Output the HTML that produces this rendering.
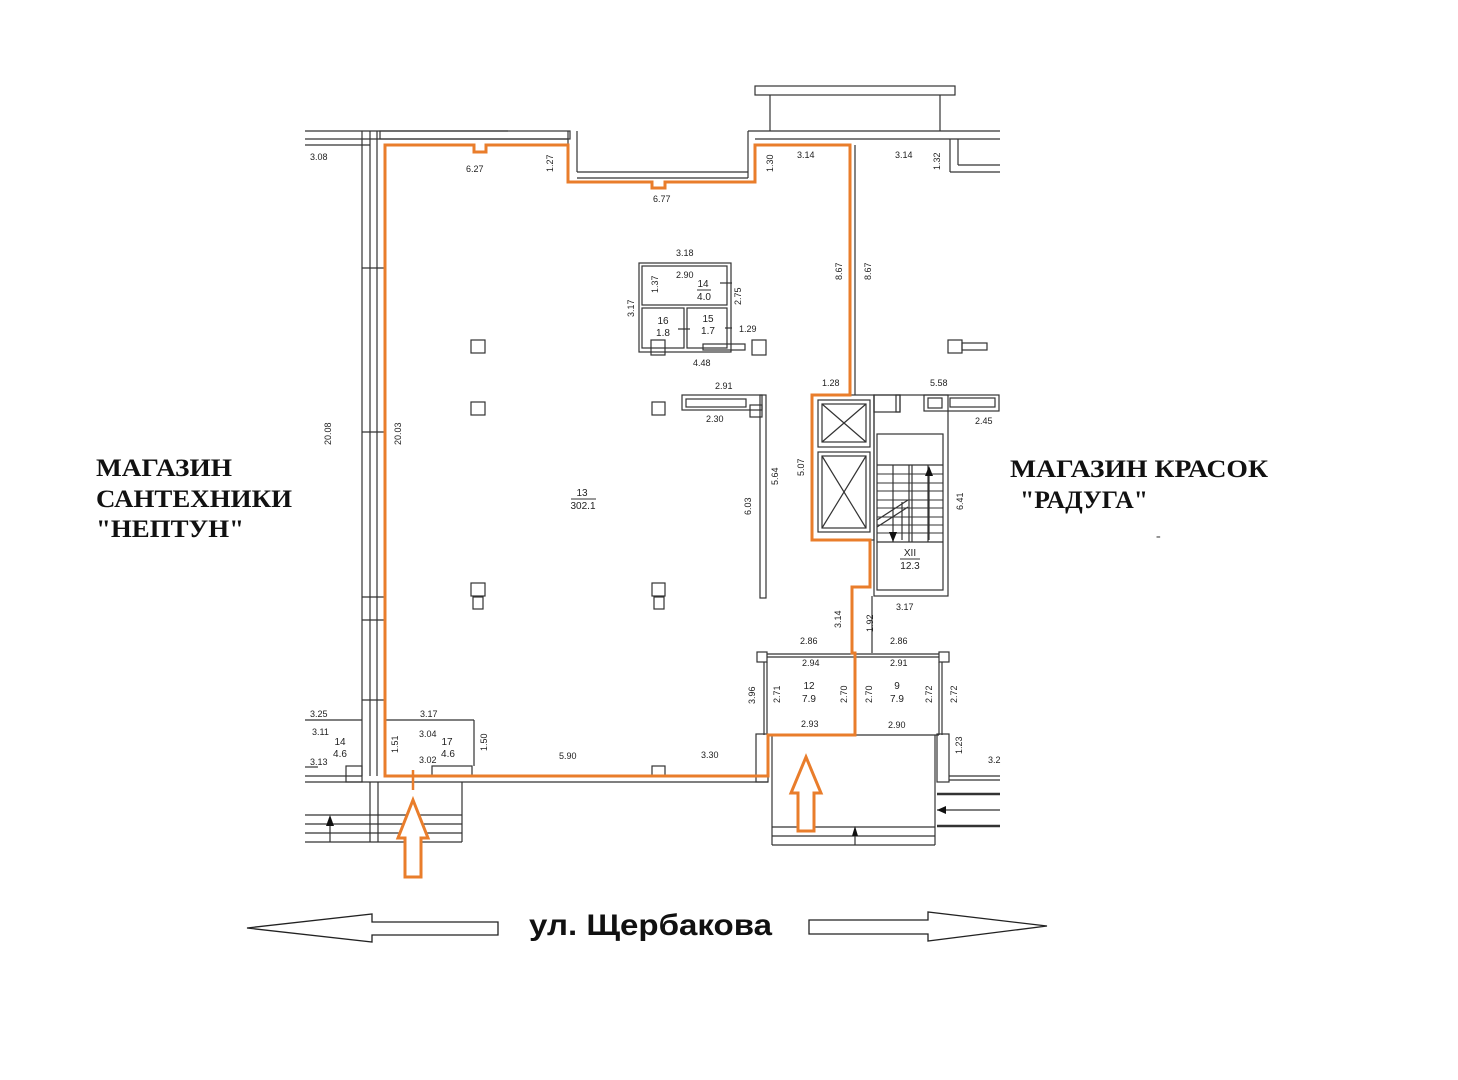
<!DOCTYPE html>
<html><head><meta charset="utf-8"><style>
html,body{margin:0;padding:0;background:#fff;}
svg{display:block}
.d{font-family:"Liberation Sans",sans-serif;font-size:9px;fill:#222}
.r{font-family:"Liberation Sans",sans-serif;font-size:10px;fill:#222}
.b{font-family:"Liberation Serif",serif;font-weight:bold;font-size:25px;fill:#111}
</style></head><body>
<svg width="1458" height="1080" viewBox="0 0 1458 1080" xmlns="http://www.w3.org/2000/svg">
<g fill="none" stroke="#333" stroke-width="1.2">
<!-- top canopy -->
<rect x="755" y="86" width="200" height="9"/>
<line x1="770" y1="95" x2="770" y2="131"/><line x1="940" y1="95" x2="940" y2="131"/>
<!-- top wall left -->
<line x1="305" y1="131" x2="508" y2="131"/><line x1="305" y1="139" x2="568" y2="139"/>
<line x1="305" y1="145" x2="370" y2="145"/>
<rect x="380" y="131" width="190" height="8"/>
<line x1="568" y1="131" x2="568" y2="182"/><line x1="577" y1="131" x2="577" y2="172"/>
<line x1="577" y1="172" x2="748" y2="172"/><line x1="577" y1="178" x2="748" y2="178"/>
<line x1="748" y1="131" x2="748" y2="178"/><line x1="748" y1="131" x2="1000" y2="131"/>
<line x1="755" y1="139" x2="1000" y2="139"/>
<line x1="950" y1="139" x2="950" y2="172"/><line x1="958" y1="139" x2="958" y2="165"/>
<line x1="958" y1="165" x2="1000" y2="165"/><line x1="950" y1="172" x2="1000" y2="172"/>
<line x1="855" y1="145" x2="855" y2="395"/>
<!-- left walls -->
<line x1="362" y1="131" x2="362" y2="776"/><line x1="370" y1="131" x2="370" y2="776"/>
<line x1="377" y1="131" x2="377" y2="776"/>
<line x1="362" y1="268" x2="385" y2="268"/><line x1="362" y1="432" x2="385" y2="432"/>
<line x1="362" y1="597" x2="385" y2="597"/><line x1="362" y1="620" x2="385" y2="620"/>
<line x1="362" y1="700" x2="385" y2="700"/>
<!-- bottom wall -->
<line x1="305" y1="782" x2="768" y2="782"/><line x1="305" y1="776" x2="362" y2="776"/>
<line x1="305" y1="720" x2="362" y2="720"/><line x1="305" y1="767" x2="318" y2="767"/>
<line x1="386" y1="720" x2="474" y2="720"/><line x1="474" y1="720" x2="474" y2="766"/>
<rect x="432" y="766" width="40" height="10"/>
<rect x="346" y="766" width="16" height="16"/>
<rect x="652" y="766" width="13" height="10"/>
<!-- porch left -->
<line x1="370" y1="782" x2="370" y2="842"/><line x1="378" y1="782" x2="378" y2="842"/>
<line x1="462" y1="782" x2="462" y2="842"/>
<line x1="305" y1="815" x2="462" y2="815"/><line x1="305" y1="824" x2="462" y2="824"/><line x1="305" y1="833" x2="462" y2="833"/>
<line x1="305" y1="842" x2="462" y2="842"/>
<line x1="330" y1="842" x2="330" y2="818"/>
<!-- columns -->
<rect x="471" y="340" width="14" height="13"/><rect x="471" y="402" width="14" height="13"/>
<rect x="652" y="402" width="13" height="13"/>
<rect x="471" y="583" width="14" height="13"/><rect x="473" y="597" width="10" height="12"/>
<rect x="652" y="583" width="13" height="13"/><rect x="654" y="597" width="10" height="12"/>
<rect x="948" y="340" width="14" height="13"/><rect x="962" y="343" width="25" height="7"/>
<!-- WC block -->
<rect x="639" y="263" width="92" height="89"/><rect x="642" y="266" width="85" height="39"/>
<rect x="642" y="308" width="42" height="40"/><rect x="687" y="308" width="40" height="40"/>
<rect x="651" y="340" width="14" height="15"/><rect x="752" y="340" width="14" height="15"/>
<rect x="703" y="344" width="42" height="6"/>
<line x1="720" y1="283" x2="732" y2="283"/><line x1="725" y1="328" x2="732" y2="328"/><line x1="678" y1="329" x2="690" y2="329"/>
<!-- counter -->
<rect x="682" y="395" width="80" height="15"/><rect x="686" y="399" width="60" height="8"/>
<rect x="760" y="395" width="6" height="203"/><rect x="750" y="405" width="12" height="12"/>
<!-- elevators & stair -->
<rect x="812" y="395" width="62" height="145"/>
<rect x="818" y="400" width="52" height="47"/><rect x="822" y="404" width="44" height="38"/>
<line x1="822" y1="404" x2="866" y2="442"/><line x1="866" y1="404" x2="822" y2="442"/>
<rect x="818" y="452" width="52" height="80"/><rect x="822" y="456" width="44" height="72"/>
<line x1="822" y1="456" x2="866" y2="528"/><line x1="866" y1="456" x2="822" y2="528"/>
<rect x="874" y="395" width="26" height="17"/><rect x="896" y="395" width="4" height="17"/>
<rect x="874" y="395" width="74" height="201"/>
<rect x="877" y="434" width="66" height="156"/>
<line x1="877" y1="465" x2="943" y2="465"/><line x1="877" y1="542" x2="943" y2="542"/>
<line x1="909" y1="465" x2="909" y2="542"/><line x1="912" y1="465" x2="912" y2="542"/>
<line x1="893" y1="465" x2="893" y2="542"/><line x1="928" y1="465" x2="928" y2="542"/>
<g stroke-width="0.9">
<line x1="877" y1="474" x2="943" y2="474"/><line x1="877" y1="483" x2="943" y2="483"/>
<line x1="877" y1="491" x2="943" y2="491"/><line x1="877" y1="500" x2="943" y2="500"/>
<line x1="877" y1="508" x2="943" y2="508"/><line x1="877" y1="517" x2="943" y2="517"/>
<line x1="877" y1="525" x2="943" y2="525"/><line x1="877" y1="533" x2="943" y2="533"/>
</g>
<line x1="877" y1="520" x2="908" y2="500"/><line x1="877" y1="527" x2="908" y2="507"/>
<line x1="929" y1="470" x2="929" y2="540"/><line x1="902" y1="502" x2="902" y2="540"/>
<rect x="924" y="395" width="75" height="16"/><rect x="928" y="398" width="14" height="10"/>
<rect x="950" y="398" width="45" height="9"/>
<line x1="872" y1="596" x2="872" y2="653"/>
<!-- vestibule rooms -->
<rect x="757" y="652" width="10" height="10"/><rect x="939" y="652" width="10" height="10"/>
<line x1="767" y1="654" x2="939" y2="654"/><line x1="767" y1="657" x2="939" y2="657"/>
<line x1="764" y1="662" x2="764" y2="735"/><line x1="767" y1="662" x2="767" y2="735"/>
<line x1="939" y1="662" x2="939" y2="735"/><line x1="942" y1="662" x2="942" y2="735"/>
<line x1="852" y1="735" x2="939" y2="735"/>
<rect x="756" y="734" width="12" height="48"/><rect x="937" y="734" width="12" height="48"/>
<line x1="772" y1="735" x2="772" y2="845"/><line x1="935" y1="735" x2="935" y2="845"/>
<line x1="772" y1="827" x2="935" y2="827"/><line x1="772" y1="836" x2="935" y2="836"/>
<line x1="772" y1="845" x2="935" y2="845"/>
<line x1="855" y1="845" x2="855" y2="830"/>
<line x1="949" y1="776" x2="1000" y2="776"/><line x1="949" y1="780" x2="1000" y2="780"/>
<line x1="937" y1="794" x2="1000" y2="794" stroke-width="2.5"/>
<line x1="937" y1="810" x2="1000" y2="810"/>
<line x1="937" y1="826" x2="1000" y2="826" stroke-width="2.5"/>
</g>
<g fill="#111">
<polygon points="330,815 326,826 334,826"/><polygon points="855,826 852,836 858,836"/>
<polygon points="937,810 946,806 946,814"/>
<polygon points="929,466 925,476 933,476"/><polygon points="893,542 889,532 897,532"/>
</g>
<!-- orange outline -->
<path d="M385,145 L474,145 L474,152 L486,152 L486,145 L568,145 L568,182 L652,182 L652,188 L665,188 L665,182 L755,182 L755,145 L850,145 L850,395 L812,395 L812,540 L870,540 L870,587 L852,587 L852,653 L855,653 L855,735 L768,735 L768,776 L385,776 Z" fill="none" stroke="#e97d2b" stroke-width="3"/>
<line x1="413" y1="770" x2="413" y2="790" stroke="#e97d2b" stroke-width="2.5"/>
<path d="M413,800 L428,838 L421,838 L421,877 L405,877 L405,838 L398,838 Z" fill="#fff" stroke="#e97d2b" stroke-width="3"/>
<path d="M806,757 L821,793 L814,793 L814,831 L798,831 L798,793 L791,793 Z" fill="#fff" stroke="#e97d2b" stroke-width="3"/>
<!-- street arrows -->
<path d="M247,928 L372,914 L372,922 L498,922 L498,935 L372,935 L372,942 Z" fill="#fff" stroke="#222" stroke-width="1.3"/>
<path d="M1047,926 L928,912 L928,920 L809,920 L809,934 L928,934 L928,941 Z" fill="#fff" stroke="#222" stroke-width="1.3"/>
<!-- dims -->
<g class="d">
<text x="310" y="160">3.08</text><text x="466" y="172">6.27</text><text x="653" y="202">6.77</text>
<text x="797" y="158">3.14</text><text x="895" y="158">3.14</text>
<text x="676" y="256">3.18</text><text x="676" y="278">2.90</text><text x="693" y="366">4.48</text>
<text x="739" y="332">1.29</text><text x="715" y="389">2.91</text><text x="706" y="422">2.30</text>
<text x="822" y="386">1.28</text><text x="930" y="386">5.58</text><text x="975" y="424">2.45</text>
<text x="896" y="610">3.17</text><text x="800" y="644">2.86</text><text x="890" y="644">2.86</text>
<text x="802" y="666">2.94</text><text x="890" y="666">2.91</text><text x="801" y="727">2.93</text>
<text x="888" y="728">2.90</text><text x="310" y="717">3.25</text><text x="312" y="735">3.11</text>
<text x="310" y="765">3.13</text><text x="420" y="717">3.17</text><text x="419" y="737">3.04</text>
<text x="419" y="763">3.02</text><text x="559" y="759">5.90</text><text x="701" y="758">3.30</text>
<text x="988" y="763">3.2</text>
</g>
<g class="d">
<text transform="translate(553,172) rotate(-90)">1.27</text>
<text transform="translate(773,172) rotate(-90)">1.30</text>
<text transform="translate(940,170) rotate(-90)">1.32</text>
<text transform="translate(842,280) rotate(-90)">8.67</text>
<text transform="translate(871,280) rotate(-90)">8.67</text>
<text transform="translate(658,293) rotate(-90)">1.37</text>
<text transform="translate(634,317) rotate(-90)">3.17</text>
<text transform="translate(741,305) rotate(-90)">2.75</text>
<text transform="translate(331,445) rotate(-90)">20.08</text>
<text transform="translate(401,445) rotate(-90)">20.03</text>
<text transform="translate(778,485) rotate(-90)">5.64</text>
<text transform="translate(751,515) rotate(-90)">6.03</text>
<text transform="translate(804,476) rotate(-90)">5.07</text>
<text transform="translate(963,510) rotate(-90)">6.41</text>
<text transform="translate(841,628) rotate(-90)">3.14</text>
<text transform="translate(873,632) rotate(-90)">1.92</text>
<text transform="translate(755,704) rotate(-90)">3.96</text>
<text transform="translate(780,703) rotate(-90)">2.71</text>
<text transform="translate(847,703) rotate(-90)">2.70</text>
<text transform="translate(872,703) rotate(-90)">2.70</text>
<text transform="translate(932,703) rotate(-90)">2.72</text>
<text transform="translate(957,703) rotate(-90)">2.72</text>
<text transform="translate(398,753) rotate(-90)">1.51</text>
<text transform="translate(487,751) rotate(-90)">1.50</text>
<text transform="translate(962,754) rotate(-90)">1.23</text>
</g>
<g class="r" text-anchor="middle">
<text x="703" y="287">14</text><text x="704" y="300">4.0</text><line x1="697" y1="290" x2="711" y2="290" stroke="#333"/>
<text x="663" y="324">16</text><text x="663" y="336">1.8</text>
<text x="708" y="322">15</text><text x="708" y="334">1.7</text>
<text x="582" y="496">13</text><text x="583" y="509">302.1</text><line x1="571" y1="499" x2="596" y2="499" stroke="#333"/>
<text x="910" y="556">XII</text><text x="910" y="569">12.3</text><line x1="900" y1="559" x2="920" y2="559" stroke="#333"/>
<text x="809" y="689">12</text><text x="809" y="702">7.9</text>
<text x="897" y="689">9</text><text x="897" y="702">7.9</text>
<text x="340" y="745">14</text><text x="340" y="757">4.6</text>
<text x="447" y="745">17</text><text x="448" y="757">4.6</text>
</g>
<!-- labels -->
<text class="b" x="96" y="476" textLength="136" lengthAdjust="spacingAndGlyphs">МАГАЗИН</text>
<text class="b" x="96" y="507" textLength="196" lengthAdjust="spacingAndGlyphs">САНТЕХНИКИ</text>
<text class="b" x="96" y="537" textLength="148" lengthAdjust="spacingAndGlyphs">"НЕПТУН"</text>
<text class="b" x="1010" y="477" textLength="258" lengthAdjust="spacingAndGlyphs">МАГАЗИН КРАСОК</text>
<text class="b" x="1020" y="508" textLength="128" lengthAdjust="spacingAndGlyphs">"РАДУГА"</text>
<text x="1156" y="540" font-family="Liberation Serif" font-size="14" fill="#333">-</text>
<text x="529" y="935" font-family="Liberation Sans, sans-serif" font-weight="bold" font-size="30" fill="#111" textLength="243" lengthAdjust="spacingAndGlyphs">ул. Щербакова</text>
</svg>
</body></html>
